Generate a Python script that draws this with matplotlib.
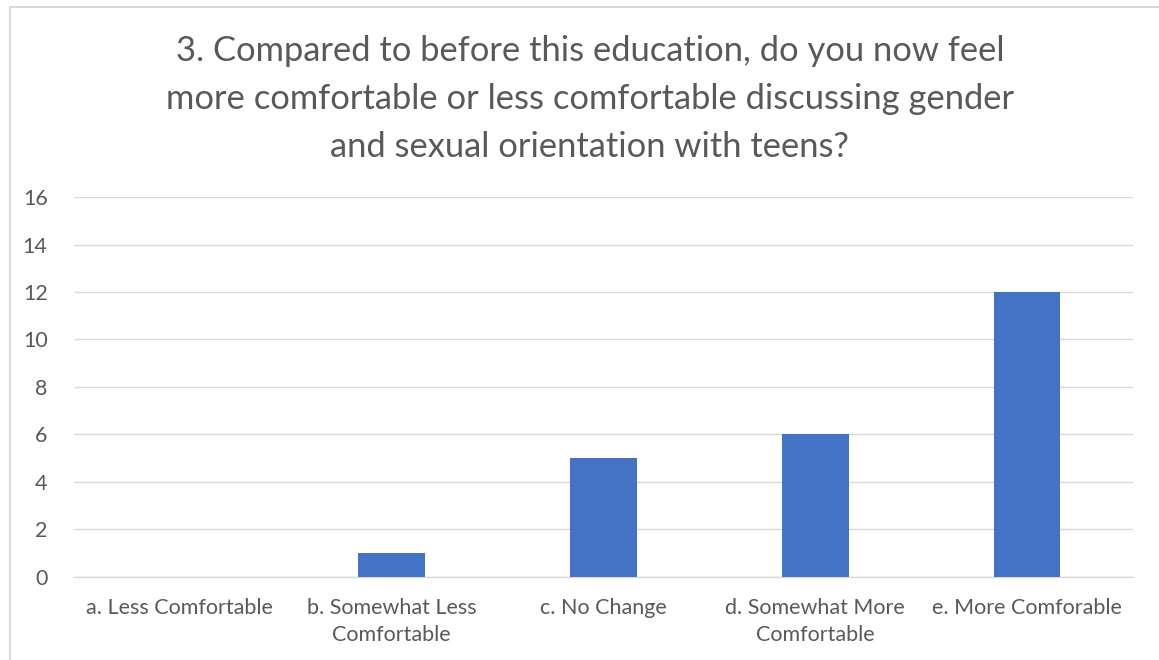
import matplotlib.pyplot as plt
from matplotlib.patches import Rectangle

categorias = ["a. Less Comfortable", "b. Somewhat Less\nComfortable", "c. No Change",
              "d. Somewhat More\nComfortable", "e. More Comforable"]
respuestas = [0, 1, 5, 6, 12]
marcas_y = [0, 2, 4, 6, 8, 10, 12, 14, 16]

plt.rcParams['font.family'] = ['Lato', 'DejaVu Sans']

fig = plt.figure(figsize=(11.59, 6.60), dpi=100)
ax = fig.add_axes([0.0638, 0.1258, 0.9138, 0.5757])

ax.bar(range(len(categorias)), respuestas, width=0.315, color="#4472c4", zorder=3)

ax.set_xlim(-0.5, len(categorias) - 0.5)
ax.set_ylim(0, 16)
ax.set_yticks(marcas_y)
ax.set_xticks(range(len(categorias)))
ax.set_xticklabels(categorias, fontsize=15.5, color="#595959", linespacing=1.45)
ax.tick_params(axis="y", labelsize=15.5, labelcolor="#595959", length=0, pad=19)
ax.tick_params(axis="x", length=0, pad=15)
ax.grid(axis="y", color="#d9d9d9", linewidth=1, zorder=0)
for lado in ["top", "right", "left"]:
    ax.spines[lado].set_visible(False)
ax.spines["bottom"].set_color("#d9d9d9")
ax.spines["bottom"].set_linewidth(1)

fig.text(0.509, 0.85,
         "3. Compared to before this education, do you now feel\n"
         "more comfortable or less comfortable discussing gender\n"
         "and sexual orientation with teens?",
         ha="center", va="center", fontsize=24.8, color="#595959", linespacing=1.62)

# borde del cuadro
fig.patches.append(Rectangle((10 / 1159, -0.1), 1.2, 1 - 7 / 660 + 0.1,
                             transform=fig.transFigure, fill=False,
                             edgecolor="#d9d9d9", linewidth=1.5))

fig.savefig("out.png", dpi=100)
